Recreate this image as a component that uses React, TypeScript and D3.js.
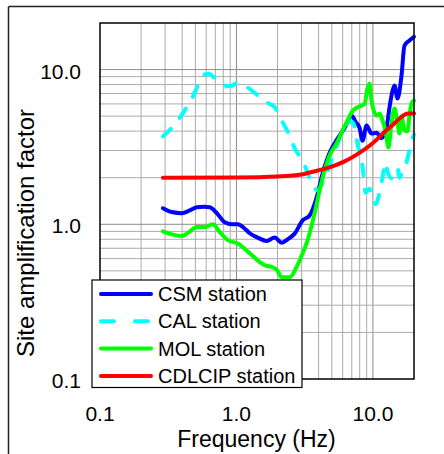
import React from 'react';
import * as d3 from 'd3';

// axis labels
const xTickVals = [0.1, 1, 10];
const xTickLabels = ['0.1', '1.0', '10.0'];
const yTickVals = [0.1, 1, 10];
const yTickLabels = ['0.1', '1.0', '10.0'];

// CSM station (blue)
const csmFreq = [0.289, 0.336, 0.398, 0.455, 0.512, 0.577, 0.638, 0.718, 0.821, 0.924, 1.022, 1.131, 1.251, 1.432, 1.666, 1.906, 2.145, 2.373, 2.67, 3.055, 3.437, 3.867, 4.278, 4.815, 5.417, 6.198, 6.974, 7.459, 7.98, 8.395, 8.982, 9.768, 10.62, 11.56, 12.58, 13.23, 13.92, 14.39, 15.14, 16.19, 17.03, 18.52, 20];
const csmAmp = [1.27, 1.2, 1.18, 1.23, 1.29, 1.3, 1.29, 1.18, 1.03, 1.0, 1.0, 0.95, 0.875, 0.82, 0.78, 0.82, 0.76, 0.8, 0.87, 1.06, 1.14, 1.49, 2.13, 2.9, 3.5, 4.2, 5.05, 4.6, 4.2, 3.47, 4.35, 3.86, 3.9, 3.6, 4.2, 5.7, 7.3, 7.9, 6.5, 9.1, 14.3, 15.4, 16.3];

// CAL station (cyan, dashed)
const calFreq = [0.289, 0.348, 0.412, 0.471, 0.53, 0.586, 0.627, 0.694, 0.781, 0.864, 0.94, 1.005, 1.11, 1.25, 1.38, 1.53, 1.69, 1.91, 2.14, 2.41, 2.67, 3.1, 3.38, 3.61, 3.93, 4.28, 4.58, 4.98, 5.42, 5.99, 6.52, 6.97, 7.33, 7.71, 8.26, 8.53, 8.83, 9.44, 9.93, 10.45, 11.17, 11.75, 12.36, 12.79, 13.68, 14.39, 15.14, 15.66, 16.45, 17.6, 18.5, 19.5, 20];
const calAmp = [3.7, 4.35, 5.35, 6.5, 8.1, 9.3, 9.4, 8.8, 8.1, 7.8, 7.9, 8.2, 8.0, 7.5, 7.0, 6.5, 6.1, 5.7, 4.7, 3.86, 3.1, 2.5, 2.07, 1.8, 1.66, 1.85, 2.13, 2.6, 3.2, 4.0, 4.5, 4.6, 4.3, 3.3, 2.6, 2.1, 1.6, 1.7, 1.5, 1.35, 1.6, 2.0, 2.5, 2.2, 1.98, 2.13, 2.3, 2.0, 2.2, 2.5, 3.0, 3.6, 3.8];

// MOL station (green)
const molFreq = [0.289, 0.336, 0.398, 0.455, 0.512, 0.586, 0.671, 0.755, 0.864, 1.022, 1.251, 1.481, 1.638, 1.812, 1.971, 2.145, 2.454, 2.761, 3.055, 3.323, 3.739, 4.068, 4.426, 4.815, 5.417, 5.993, 6.519, 7.092, 7.714, 8.254, 8.683, 9.131, 9.443, 9.768, 10.62, 11.18, 11.75, 12.37, 13.01, 13.68, 14.39, 15.14, 15.65, 16.19, 17.03, 17.91, 18.52, 19.16, 20];
const molAmp = [0.9, 0.86, 0.84, 0.9, 0.96, 0.96, 1.0, 0.89, 0.79, 0.75, 0.65, 0.57, 0.54, 0.53, 0.51, 0.455, 0.455, 0.53, 0.65, 0.79, 1.18, 1.66, 2.23, 2.79, 3.33, 4.04, 4.7, 5.4, 5.7, 5.85, 6.0, 7.6, 8.1, 6.3, 5.05, 5.2, 4.7, 4.0, 3.14, 4.5, 5.6, 4.5, 3.86, 5.0, 4.04, 4.0, 5.0, 6.05, 6.3];

// CDLCIP station (red)
const cdlFreq = [0.289, 1.0, 2.0, 3.0, 3.5, 4.8, 6.2, 7.5, 9.8, 12.0, 14.4, 16.2, 18.0, 20];
const cdlAmp = [2.0, 2.01, 2.04, 2.1, 2.17, 2.33, 2.55, 2.8, 3.3, 3.9, 4.5, 4.95, 5.2, 5.2];

const seriesNames = ['CSM station', 'CAL station', 'MOL station', 'CDLCIP station'];
const seriesColors = ['#0000ff', '#00ffff', '#00ff00', '#ff0000'];

const W = 444;
const H = 454;
const plot = { left: 100, top: 23, right: 414, bottom: 379 };
const font = '"Liberation Sans", Arial, sans-serif';

export default function App() {
  const x = d3.scaleLog().domain([0.1, 20]).range([plot.left, plot.right]);
  const y = d3.scaleLog().domain([0.1, 20]).range([plot.bottom, plot.top]);

  const series = [
    { freq: csmFreq, amp: csmAmp, dash: null },
    { freq: calFreq, amp: calAmp, dash: '11,14' },
    { freq: molFreq, amp: molAmp, dash: null },
    { freq: cdlFreq, amp: cdlAmp, dash: null },
  ];

  const line = d3.line<[number, number]>()
    .x(d => x(d[0]))
    .y(d => y(d[1]))
    .curve(d3.curveMonotoneX);

  // grid values 0.2..0.9, 1..9, 10
  const gridVals: number[] = [];
  [0.1, 1, 10].forEach(dec => {
    for (let k = 1; k <= 9; k++) {
      const v = dec * k;
      if (v > 0.1 && v < 20) gridVals.push(+v.toFixed(2));
    }
  });
  const isMajor = (v: number) => v === 1 || v === 10;

  const legend = { x: 92, y: 280, w: 210, h: 107.5 };
  const rowY = (i: number) => 294 + i * 27.3;

  return (
    <div style={{ position: 'absolute', left: 0, top: 0 }}>
      <svg width={W} height={H} style={{ display: 'block', background: '#fff' }}>
        {/* chart frame */}
        <line x1={8.5} y1={6.5} x2={W} y2={6.5} stroke="#222" strokeWidth={1.5} />
        <line x1={8.5} y1={6.5} x2={8.5} y2={H} stroke="#222" strokeWidth={1.5} />

        {/* grid */}
        {gridVals.map(v => (
          <line key={'gx' + v} x1={x(v)} x2={x(v)} y1={plot.top} y2={plot.bottom}
            stroke={isMajor(v) ? '#8c8c8c' : '#ababab'} strokeWidth={1} />
        ))}
        {gridVals.map(v => (
          <line key={'gy' + v} x1={plot.left} x2={plot.right} y1={y(v)} y2={y(v)}
            stroke={isMajor(v) ? '#8c8c8c' : '#ababab'} strokeWidth={1} />
        ))}

        {/* series */}
        {series.map((s, i) => (
          <path key={seriesNames[i]}
            d={line(s.freq.map((f, j) => [f, s.amp[j]] as [number, number])) || ''}
            fill="none" stroke={seriesColors[i]} strokeWidth={4}
            strokeLinejoin="round" strokeLinecap="round"
            strokeDasharray={s.dash || undefined} />
        ))}

        {/* plot border */}
        <rect x={plot.left} y={plot.top} width={plot.right - plot.left} height={plot.bottom - plot.top}
          fill="none" stroke="#000" strokeWidth={1.5} />

        {/* tick labels */}
        {yTickVals.map((v, i) => (
          <text key={'yt' + i} x={81} y={y(v) + 9} textAnchor="end" fontFamily={font} fontSize={21} fill="#000">
            {yTickLabels[i]}
          </text>
        ))}
        {xTickVals.map((v, i) => (
          <text key={'xt' + i} x={x(v)} y={421} textAnchor="middle" fontFamily={font} fontSize={21} fill="#000">
            {xTickLabels[i]}
          </text>
        ))}

        {/* axis titles */}
        <text x={256.5} y={447} textAnchor="middle" fontFamily={font} fontSize={23} fill="#000">Frequency (Hz)</text>
        <text transform="translate(34,233) rotate(-90)" textAnchor="middle" fontFamily={font} fontSize={24} fill="#000">
          Site amplification factor
        </text>

        {/* legend */}
        <rect x={legend.x} y={legend.y} width={legend.w} height={legend.h} fill="#fff" stroke="#000" strokeWidth={1.2} />
        {seriesNames.map((name, i) => (
          <g key={'lg' + i}>
            <line x1={101} x2={151} y1={rowY(i)} y2={rowY(i)} stroke={seriesColors[i]} strokeWidth={4}
              strokeLinecap="round" strokeDasharray={series[i].dash ? '13,21' : undefined} />
            <text x={158} y={rowY(i) + 7} fontFamily={font} fontSize={20} fill="#000">{name}</text>
          </g>
        ))}
      </svg>
    </div>
  );
}
